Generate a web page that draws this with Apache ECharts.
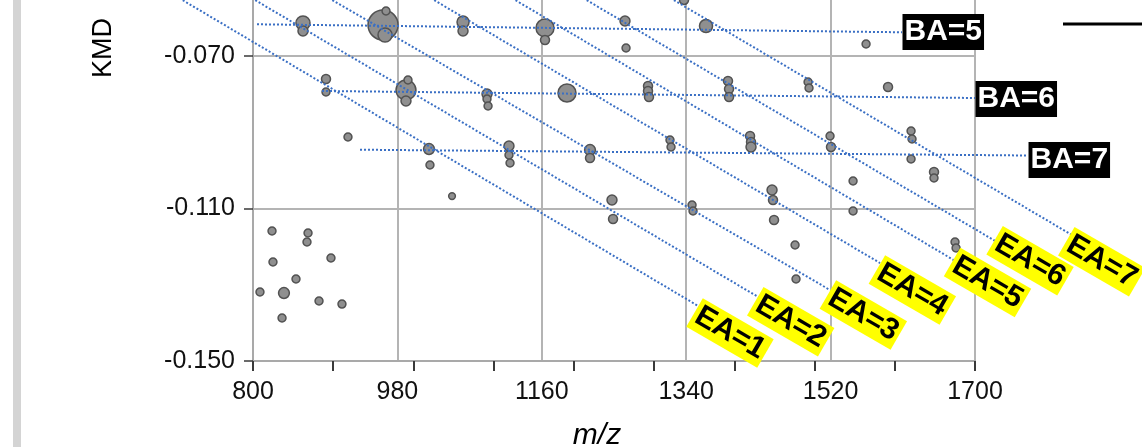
<!DOCTYPE html>
<html>
<head>
<meta charset="utf-8">
<script src="https://cdn.jsdelivr.net/npm/echarts@6/dist/echarts.min.js"></script>
<style>
html,body{margin:0;padding:0;background:#fff;}
#chart{width:1142px;height:447px;}
</style>
</head>
<body>
<div id="chart"></div>
<script>
// ---- data ----
const mzValues = [862.3, 862.3, 962.1, 965.8, 964.6, 1061.8, 1061.8, 1164.0, 1164.0, 1337.3, 1263.7, 1265.0, 1364.7, 1564.2,
  891.0, 891.0, 990.7, 993.2, 990.7, 1091.7, 1091.7, 1093.0, 1191.4, 1292.4, 1292.4, 1293.6, 1392.1, 1393.4, 1393.4, 1491.9, 1493.1, 1591.6,
  918.4, 1319.8, 1321.1, 1419.6, 1420.8, 1420.8, 1519.3, 1520.5, 1620.3, 1621.5, 1620.3,
  1019.4, 1020.6, 1119.1, 1119.1, 1120.4, 1220.1, 1220.1, 1048.1, 1648.9, 1648.9, 1548.0, 1548.0,
  1247.5, 1248.8, 1347.3, 1348.5, 1447.0, 1448.2, 1449.5, 1475.7, 1476.9, 1675.1, 1676.4,
  823.7, 868.6, 867.3, 824.9, 897.2, 853.6, 808.7, 838.6, 882.3, 910.9, 836.2];
const kmdValues = [-0.06134, -0.06344, -0.06187, -0.0582, -0.06449, -0.06108, -0.06344, -0.06265, -0.0658, -0.0553, -0.06082, -0.0679, -0.06213, -0.06685,
  -0.07603, -0.07944, -0.07892, -0.0763, -0.0818, -0.07997, -0.08128, -0.08312, -0.0797, -0.07787, -0.07918, -0.08076, -0.07656, -0.07866, -0.08076, -0.07682, -0.07839, -0.07813,
  -0.09125, -0.09204, -0.09387, -0.09099, -0.09256, -0.09387, -0.09099, -0.09387, -0.08967, -0.09177, -0.09702,
  -0.0944, -0.09859, -0.09361, -0.09597, -0.09807, -0.09466, -0.09676, -0.10673, -0.10043, -0.102, -0.10279, -0.11066,
  -0.10778, -0.11276, -0.10909, -0.11066, -0.10515, -0.10778, -0.11302, -0.11958, -0.1285, -0.11879, -0.12037,
  -0.11591, -0.11643, -0.11879, -0.12404, -0.12299, -0.1285, -0.13191, -0.13217, -0.13427, -0.13506, -0.13873];
const abundance = [22, 11, 100, 7, 22, 16, 11, 36, 9, 9, 11, 7, 19, 7,
  9, 7, 44, 7, 11, 11, 7, 7, 36, 9, 9, 9, 9, 9, 9, 7, 7, 9,
  7, 7, 7, 9, 9, 11, 7, 9, 7, 7, 7,
  13, 7, 11, 7, 7, 13, 9, 5, 9, 7, 7, 7,
  11, 9, 7, 7, 11, 9, 9, 7, 7, 7, 7,
  7, 7, 7, 7, 7, 7, 7, 13, 7, 7, 7];

const eaNames = ['EA=1', 'EA=2', 'EA=3', 'EA=4', 'EA=5', 'EA=6', 'EA=7'];
const eaStartMz = [691.0, 781.3, 877.3, 1004.4, 1105.8, 1194.5, 1303.2];
const eaStartKmd = [-0.05269, -0.05269, -0.05269, -0.05269, -0.05269, -0.05269, -0.05269];
const eaEndMz = [1357.2, 1432.0, 1519.3, 1581.6, 1677.6, 1727.4, 1820.9];
const eaEndKmd = [-0.13585, -0.13348, -0.13139, -0.1243, -0.12404, -0.11879, -0.11696];
const eaLabelMz = [1394.6, 1470.3, 1560.8, 1621.9, 1715.6, 1768.6, 1858.0];
const eaLabelKmd = [-0.14267, -0.1397, -0.13794, -0.13139, -0.12942, -0.1237, -0.12396];

const baNames = ['BA=5', 'BA=6', 'BA=7'];
const baStartMz = [805.0, 886.0, 933.4];
const baStartKmd = [-0.06168, -0.07918, -0.09458];
const baEndMz = [1609.0, 1700.0, 1766.1];
const baEndKmd = [-0.06378, -0.08102, -0.0961];
const baLabelMz = [1609.0, 1700.0, 1766.1];
const baLabelKmd = [-0.0637, -0.08128, -0.09728];

const xRange = [800, 1700];
const yRange = [-0.150, -0.030];

// ---- chart ----
const FONT = '"Liberation Sans", Arial, sans-serif';
const chart = echarts.init(document.getElementById('chart'));

const series = [];

series.push({
  type: 'scatter',
  z: 2,
  data: mzValues.map((m, i) => [m, kmdValues[i], abundance[i]]),
  symbolSize: d => Math.sqrt(d[2]) * 3,
  itemStyle: { color: '#8f8f8f', borderColor: '#525252', borderWidth: 1.5, opacity: 1 },
  clip: false,
  silent: true
});

const guideLines = [];
eaNames.forEach((n, i) => guideLines.push({ coords: [[eaStartMz[i], eaStartKmd[i]], [eaEndMz[i], eaEndKmd[i]]] }));
baNames.forEach((n, i) => guideLines.push({ coords: [[baStartMz[i], baStartKmd[i]], [baEndMz[i], baEndKmd[i]]] }));

series.push({
  type: 'lines',
  coordinateSystem: 'cartesian2d',
  z: 3, silent: true, clip: false,
  symbol: 'none',
  lineStyle: { type: 'dotted', color: '#3a6fc4', width: 2, opacity: 1 },
  data: guideLines
});

series.push({
  type: 'scatter', z: 5, silent: true, clip: false,
  symbolSize: 1,
  itemStyle: { color: 'rgba(0,0,0,0)', opacity: 1 },
  data: eaNames.map((n, i) => ({ value: [eaLabelMz[i], eaLabelKmd[i]], name: n })),
  label: {
    show: true, position: 'inside', rotate: -30, opacity: 1,
    formatter: p => p.name,
    color: '#000', fontWeight: 'bold', fontSize: 30, fontFamily: FONT,
    backgroundColor: '#ffff00', padding: [1, 3], lineHeight: 31
  }
});

series.push({
  type: 'scatter', z: 5, silent: true, clip: false,
  symbolSize: 1,
  itemStyle: { color: 'rgba(0,0,0,0)', opacity: 1 },
  data: baNames.map((n, i) => ({ value: [baLabelMz[i], baLabelKmd[i]], name: n })),
  label: {
    show: true, position: 'right', distance: 0, opacity: 1,
    formatter: p => p.name,
    color: '#fff', fontWeight: 'bold', fontSize: 30, fontFamily: FONT,
    backgroundColor: '#000', padding: [1, 2], lineHeight: 34
  }
});

const option = {
  animation: false,
  backgroundColor: '#fff',
  grid: { left: 253, right: 167, top: -96.5, bottom: 86, containLabel: false, outerBoundsMode: 'none' },
  xAxis: [{
    type: 'value', min: xRange[0], max: xRange[1], interval: 180,
    position: 'bottom',
    axisLine: { show: true, onZero: false, lineStyle: { color: '#a9a9a9', width: 2 } },
    axisTick: { show: false },
    axisLabel: { margin: 19, fontSize: 25, color: '#111', fontFamily: FONT, formatter: v => String(v) },
    splitLine: { show: true, lineStyle: { color: '#b4b4b4', width: 2 } },
    name: 'm/z', nameLocation: 'middle', nameGap: 60,
    nameTextStyle: { fontStyle: 'italic', fontSize: 30, color: '#000', fontFamily: FONT, padding: [0, 34, 0, 0] }
  }, {
    type: 'value', min: xRange[0], max: xRange[1], interval: 100,
    position: 'bottom', gridIndex: 0,
    axisLine: { show: false },
    axisTick: { show: true, length: 10, lineStyle: { color: '#3a3a3a', width: 2 } },
    axisLabel: { show: false },
    splitLine: { show: false }
  }],
  yAxis: {
    type: 'value', min: yRange[0], max: yRange[1], interval: 0.04,
    axisLine: { show: true, onZero: false, lineStyle: { color: '#a9a9a9', width: 2 } },
    axisTick: { show: true, length: 9, lineStyle: { color: '#3a3a3a', width: 1.5 } },
    axisLabel: { margin: 18, fontSize: 25, color: '#111', fontFamily: FONT, formatter: v => v.toFixed(3) },
    splitLine: { show: true, lineStyle: { color: '#b4b4b4', width: 2 } }
  },
  graphic: [
    { type: 'rect', shape: { x: 13, y: 0, width: 8, height: 447 }, style: { fill: '#d4d4d4' }, silent: true },
    { type: 'text', x: 104, y: 48, rotation: Math.PI / 2,
      style: { text: 'KMD', font: '27px ' + FONT, fill: '#000', align: 'center', verticalAlign: 'middle' } },
    { type: 'line', shape: { x1: 1063, y1: 24, x2: 1142, y2: 24 }, style: { stroke: '#000', lineWidth: 3 } }
  ],
  series: series
};
chart.setOption(option);
</script>
</body>
</html>
